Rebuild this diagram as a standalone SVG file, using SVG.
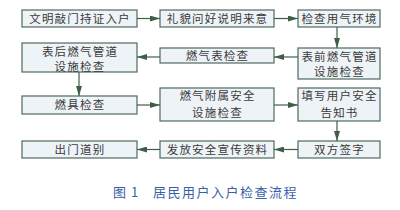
<svg xmlns="http://www.w3.org/2000/svg" width="400" height="210" viewBox="0 0 400 210">
<defs>
<style>
.box rect{fill:#eef3f7;stroke:#4d6b5c;stroke-width:1.2}
.box text{font-family:"Noto Sans CJK SC",sans-serif;font-size:11.5px;fill:#3a3a3a;text-anchor:middle;letter-spacing:1.2px}
.conn line{stroke:#3f5e48;stroke-width:1.2;marker-end:url(#ah)}
.cap{font-family:"Noto Sans CJK SC",sans-serif;font-size:13px;fill:#3a5ea8;letter-spacing:1.5px}
</style>
<marker id="ah" viewBox="0 0 10 6" refX="10" refY="3" markerWidth="10" markerHeight="6" markerUnits="userSpaceOnUse" orient="auto">
<path d="M0,0 L10,3 L0,6 Z" fill="#3f5e48"/>
</marker>
</defs>
<rect width="400" height="210" fill="#fff"/>
<g id="n1" class="box"><rect x="22" y="10" width="115" height="17"/><text x="80" y="22.5">文明敲门持证入户</text></g>
<g id="n2" class="box"><rect x="160" y="10" width="114" height="17"/><text x="217.5" y="22.5">礼貌问好说明来意</text></g>
<g id="n3" class="box"><rect x="298" y="10" width="82" height="17"/><text x="339.5" y="22.5">检查用气环境</text></g>
<g id="n4" class="box"><rect x="22" y="43" width="115" height="29"/><text x="80" y="55.5">表后燃气管道</text><text x="80" y="70.5">设施检查</text></g>
<g id="n5" class="box"><rect x="160" y="48" width="114" height="15"/><text x="217.5" y="59.5">燃气表检查</text></g>
<g id="n6" class="box"><rect x="298" y="48" width="82" height="31"/><text x="339.5" y="60.5">表前燃气管道</text><text x="339.5" y="76">设施检查</text></g>
<g id="n7" class="box"><rect x="22" y="96" width="115" height="18"/><text x="80" y="109">燃具检查</text></g>
<g id="n8" class="box"><rect x="160" y="88" width="114" height="33"/><text x="217.5" y="100">燃气附属安全</text><text x="217.5" y="116.5">设施检查</text></g>
<g id="n9" class="box"><rect x="298" y="88" width="82" height="33"/><text x="339.5" y="100">填写用户安全</text><text x="339.5" y="116.5">告知书</text></g>
<g id="n10" class="box"><rect x="22" y="141" width="115" height="17"/><text x="80" y="153.5">出门道别</text></g>
<g id="n11" class="box"><rect x="160" y="141" width="114" height="17"/><text x="217.5" y="153.5">发放安全宣传资料</text></g>
<g id="n12" class="box"><rect x="298" y="141" width="82" height="17"/><text x="339.5" y="153.5">双方签字</text></g>
<g id="connectors" class="conn">
<line x1="137" y1="18.5" x2="160" y2="18.5"/>
<line x1="274" y1="18.5" x2="298" y2="18.5"/>
<line x1="337" y1="27" x2="337" y2="48"/>
<line x1="298" y1="57" x2="274" y2="57"/>
<line x1="160" y1="57" x2="137" y2="57"/>
<line x1="79" y1="72" x2="79" y2="96"/>
<line x1="137" y1="105" x2="160" y2="105"/>
<line x1="274" y1="105" x2="298" y2="105"/>
<line x1="337" y1="121" x2="337" y2="141"/>
<line x1="298" y1="149.5" x2="274" y2="149.5"/>
<line x1="160" y1="149.5" x2="137" y2="149.5"/>
</g>
<text class="cap" x="113" y="197">图<tspan x="131">1</tspan><tspan x="153">居民用户入户检查流程</tspan></text>
</svg>
